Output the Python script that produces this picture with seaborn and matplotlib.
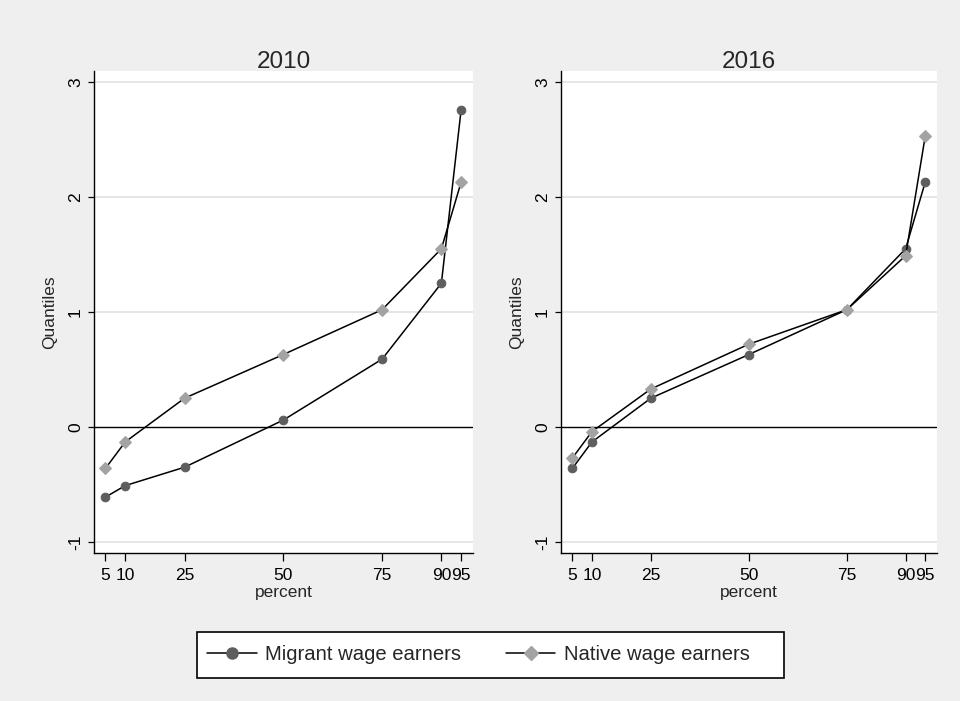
import matplotlib
matplotlib.use("Agg")
import matplotlib.pyplot as plt
from matplotlib.lines import Line2D
from matplotlib.patches import Rectangle
import seaborn as sns
import pandas as pd

# Percentiles at which the wage distribution is evaluated
percentiles = [5, 10, 25, 50, 75, 90, 95]
tick_labels = ["5", "10", "25", "50", "75", "90", "95"]
years = ["2010", "2016"]

# Quantile values by group and year
migrant_2010 = [-0.61, -0.51, -0.35, 0.06, 0.59, 1.25, 2.76]
native_2010 = [-0.36, -0.13, 0.25, 0.63, 1.02, 1.55, 2.13]
migrant_2016 = [-0.36, -0.13, 0.25, 0.63, 1.02, 1.55, 2.13]
native_2016 = [-0.27, -0.04, 0.33, 0.72, 1.02, 1.49, 2.53]

groups = ["Migrant wage earners", "Native wage earners"]
y_ticks = [-1, 0, 1, 2, 3]

series = {
    ("2010", groups[0]): migrant_2010,
    ("2010", groups[1]): native_2010,
    ("2016", groups[0]): migrant_2016,
    ("2016", groups[1]): native_2016,
}
rows = []
for (yr, grp), vals in series.items():
    for p, v in zip(percentiles, vals):
        rows.append({"year": yr, "group": grp, "percent": p, "quantile": v})
df = pd.DataFrame(rows)

sns.set_style("white")
plt.rcParams["font.family"] = ["Liberation Sans", "DejaVu Sans"]

bg = "#efefef"
dark, light = "#5e5e5e", "#a3a3a3"
marker_style = {
    groups[0]: dict(marker="o", markersize=6.2, markerfacecolor=dark,
                    markeredgecolor=dark),
    groups[1]: dict(marker="D", markersize=6.4, markerfacecolor=light,
                    markeredgecolor=light),
}
legend_marker = {
    groups[0]: dict(marker="o", markersize=8.0, markerfacecolor=dark,
                    markeredgecolor=dark),
    groups[1]: dict(marker="D", markersize=7.4, markerfacecolor=light,
                    markeredgecolor=light),
}

W, H = 960, 701
fig = plt.figure(figsize=(W / 100, H / 100), dpi=100, facecolor=bg)
axes_rects = [
    [94 / W, 1 - 553 / H, (473 - 94) / W, (553 - 71) / H],
    [561 / W, 1 - 553 / H, (937 - 561) / W, (553 - 71) / H],
]

for yr, rect in zip(years, axes_rects):
    ax = fig.add_axes(rect)
    ax.set_facecolor("white")
    sub = df[df["year"] == yr]
    for grp in groups:
        sns.lineplot(data=sub[sub["group"] == grp], x="percent", y="quantile",
                     ax=ax, color="black", linewidth=1.1, legend=False,
                     zorder=3, **marker_style[grp])
    ax.set_xlim(2.1, 98.0)
    ax.set_ylim(-1.096, 3.096)
    for t in y_ticks:
        if t == 0:
            ax.axhline(0, color="black", linewidth=1.0, zorder=2)
        else:
            ax.axhline(t, color="#e4e4e4", linewidth=1.3, zorder=1)
    ax.set_xticks(percentiles)
    ax.set_xticklabels(tick_labels, fontsize=12.5)
    ax.set_yticks(y_ticks)
    ax.set_yticklabels([str(t) for t in y_ticks], fontsize=12.5,
                       rotation=90, va="center")
    ax.tick_params(axis="x", direction="out", length=5.5, width=0.9,
                   pad=5.5, bottom=True, colors="black")
    ax.tick_params(axis="y", direction="out", length=4.5, width=0.9,
                   pad=3.5, left=True, colors="black")
    for side in ["top", "right"]:
        ax.spines[side].set_visible(False)
    for side in ["left", "bottom"]:
        ax.spines[side].set_color("black")
        ax.spines[side].set_linewidth(1.0)
    ax.set_xlabel("percent", fontsize=12.5, labelpad=1)
    ax.set_ylabel("Quantiles", fontsize=12.5, labelpad=8)
    ax.set_title(yr, fontsize=17.5, pad=2)

# Legend box below the panels
fig.patches.append(Rectangle((197 / W, 1 - 678 / H), (784 - 197) / W, 46 / H,
                             transform=fig.transFigure, facecolor="white",
                             edgecolor="black", linewidth=1.2, zorder=1))
handles = [
    Line2D([], [], color="black", linewidth=1.1, **legend_marker[g])
    for g in groups
]
fs = 14.6
leg = fig.legend(handles, groups, loc="center left", ncol=2,
                 bbox_to_anchor=(207 / W, 1 - 655 / H),
                 fontsize=fs, frameon=False, borderpad=0, borderaxespad=0,
                 handlelength=2.45, handletextpad=0.42, columnspacing=2.2)
leg.set_zorder(5)

fig.savefig("out.png", dpi=100, facecolor=bg)
